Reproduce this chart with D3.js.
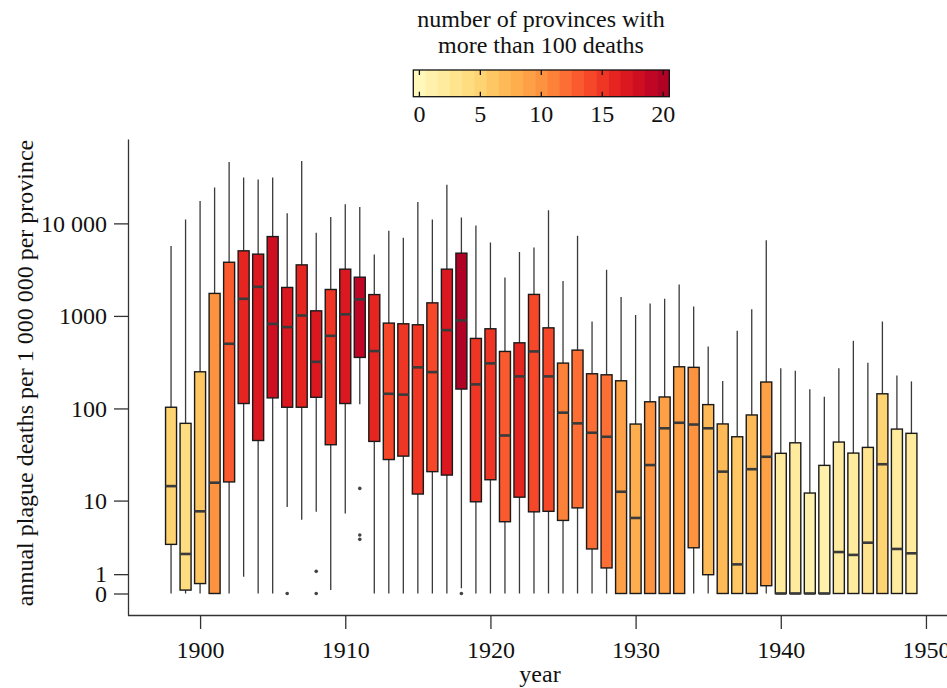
<!DOCTYPE html>
<html>
<head>
<meta charset="utf-8">
<script src="https://cdn.jsdelivr.net/npm/d3@7"></script>
<style>
  body { margin: 0; background: #fff; }
  svg text { font-family: 'Liberation Serif', Tinos, 'Times New Roman', Times, serif; }
</style>
</head>
<body>
<div id="chart"></div>
<script>
// data (deaths per 1 000 000 per province)
const years = [1898, 1899, 1900, 1901, 1902, 1903, 1904, 1905, 1906, 1907, 1908, 1909, 1910,
  1911, 1912, 1913, 1914, 1915, 1916, 1917, 1918, 1919, 1920, 1921, 1922, 1923, 1924, 1925,
  1926, 1927, 1928, 1929, 1930, 1931, 1932, 1933, 1934, 1935, 1936, 1937, 1938, 1939, 1940,
  1941, 1942, 1943, 1944, 1945, 1946, 1947, 1948, 1949]
const whiskerHigh = [5700, 11000, 17500, 24400, 46000, 31300, 29800, 31300, 12900, 47300, 7900, 11750, 16100,
  15070, 4600, 8300, 7000, 17000, 11000, 26100, 11600, 9500, 6200, 2600, 4900, 5500, 13900, 2380,
  7330, 871, 3150, 1600, 1020, 1365, 1530, 2190, 1266, 468, 198, 690, 1183, 6590, 271,
  255, 161, 134, 271, 538, 311, 871, 227, 196]
const q3 = [103, 69, 249, 1750, 3800, 5050, 4650, 7200, 2030, 3560, 1135, 1930, 3200,
  2620, 1700, 836, 822, 802, 1384, 3200, 4765, 571, 726, 413, 512, 1707, 743, 309,
  427, 237, 231, 199, 67.8, 118, 133, 282, 278, 110, 68, 49.4, 85, 193, 32.7,
  42.5, 12.1, 24.2, 43.3, 32.9, 37.9, 144, 59.8, 53.8]
const median = [14.4, 2.3, 7.6, 15.7, 500, 1530, 2060, 820, 757, 1010, 319, 609, 1040,
  1510, 417, 144, 141, 278, 247, 702, 894, 182, 307, 51, 222, 413, 222, 90,
  69, 54.6, 49.4, 12.5, 6.4, 24.4, 61, 70, 67, 61, 20.7, 1.58, 22, 30, 0,
  0, 0, 0, 2.45, 2.23, 3.26, 24.9, 2.7, 2.35]
const q1 = [3.1, 0.17, 0.5, 0, 16, 113, 45, 130, 103, 103, 132, 40.5, 113,
  356, 44, 28, 30.5, 11.8, 20.7, 19, 162, 9.7, 16.9, 5.8, 10.9, 7.5, 7.6, 6.0,
  8.3, 2.7, 1.36, 0, 0, 0, 0, 0, 2.8, 0.97, 0, 0, 0, 0.39, 0,
  0, 0, 0, 0, 0, 0, 0, 0, 0]
const whiskerLow = [0, 0, 0, 0, 0, 0.86, 0, 0, 8.5, 6.1, 7.5, 0.17, 7.2,
  111, 0, 0, 0, 0, 0, 0, 0.26, 0, 0, 0, 0, 0, 0, 0,
  0, 0, 0, 0, 0, 0, 0, 0, 0, 0, 0, 0, 0, 0, 0,
  0, 0, 0, 0, 0, 0, 0, 0, 0]
// number of provinces with more than 100 deaths
const provinces = [5, 4, 6, 10, 13, 16, 17, 18, 17, 16, 17, 15, 17,
  19, 16, 14, 15, 15, 14, 17, 20, 15, 15, 13, 16, 14, 14, 11,
  12, 12, 12, 9, 8, 10, 9, 9, 10, 7, 7, 6, 7, 9, 2,
  2, 1, 1, 2, 2, 3, 5, 2, 2]
const outlierYears = [1906, 1908, 1908, 1911, 1911, 1911, 1918]
const outlierValues = [0, 1.16, 0, 13.6, 4.05, 3.59, 0]

const yTicks = [0, 1, 10, 100, 1000, 10000]
const yTickLabels = ['0', '1', '10', '100', '1000', '10 000']
const xTicks = [1900, 1910, 1920, 1930, 1940, 1950]
const legendValues = [0, 1, 2, 3, 4, 5, 6, 7, 8, 9, 10, 11, 12, 13, 14, 15, 16, 17, 18, 19, 20]
const legendTicks = [0, 5, 10, 15, 20]

const W = 947, H = 688
const fs = 24
const serif = "'Liberation Serif', Tinos, 'Times New Roman', Times, serif"

const svg = d3.select('#chart')
    .append('svg')
    .attr('width', W)
    .attr('height', H)
    .attr('font-family', serif)

// Scales
const x = d3.scaleLinear()
    .domain([1895, 1951.45])
    .range([127.5, 947])

// values are drawn on an asinh(v / 2) axis, so 0 and 1 fit under the log decades
const tr = v => Math.asinh(v / 2)
const yLin = d3.scaleLinear()
    .domain([-0.535, 11.31])
    .range([615, 139])
const y = v => yLin(tr(v))

const color = d3.scaleSequential(d3.interpolateYlOrRd)
    .domain([-1.2, 22.35])

// Axes
const xAxis = d3.axisBottom(x)
    .tickValues(xTicks)
    .tickFormat(d => d)
    .tickSize(14)
    .tickSizeOuter(0)
    .tickPadding(12)

const yAxis = d3.axisLeft(yLin)
    .tickValues(yTicks.map(tr))
    .tickFormat((d, i) => yTickLabels[i])
    .tickSize(14)
    .tickSizeOuter(0)
    .tickPadding(7)

const xAxisCall = svg.append('g')
    .attr('transform', 'translate(0, 615)')
    .call(xAxis)

const yAxisCall = svg.append('g')
    .attr('transform', 'translate(128, 0)')
    .call(yAxis)

for (const a of [xAxisCall, yAxisCall]) {
  a.attr('font-family', serif).attr('font-size', fs)
  a.selectAll('text').attr('fill', '#111')
  a.selectAll('path, line').attr('stroke', '#333').attr('stroke-width', 1.3)
}

svg.append('text')
    .attr('x', 540)
    .attr('y', 682)
    .attr('font-size', fs)
    .attr('text-anchor', 'middle')
    .attr('fill', '#111')
    .text('year')

svg.append('text')
    .attr('transform', 'translate(33, 373) rotate(-90)')
    .attr('font-size', fs)
    .attr('text-anchor', 'middle')
    .attr('fill', '#111')
    .text('annual plague deaths per 1 000 000 per province')

// Boxes
const boxW = 11
const rows = years.map((yr, i) => ({
  year: yr, hi: whiskerHigh[i], q3: q3[i], med: median[i], q1: q1[i], lo: whiskerLow[i], n: provinces[i]
}))

const boxes = svg.append('g')
    .selectAll('g')
    .data(rows)
    .enter()
    .append('g')

boxes.append('line')
    .attr('x1', d => x(d.year))
    .attr('x2', d => x(d.year))
    .attr('y1', d => y(d.hi))
    .attr('y2', d => y(d.lo))
    .attr('stroke', '#3a3a3a')
    .attr('stroke-width', 1.3)

boxes.append('rect')
    .attr('x', d => x(d.year) - boxW / 2)
    .attr('y', d => y(d.q3))
    .attr('width', boxW)
    .attr('height', d => y(d.q1) - y(d.q3))
    .attr('fill', d => color(d.n))
    .attr('stroke', '#1a1a1a')
    .attr('stroke-width', 1.4)

boxes.append('line')
    .attr('x1', d => x(d.year) - boxW / 2)
    .attr('x2', d => x(d.year) + boxW / 2)
    .attr('y1', d => y(d.med))
    .attr('y2', d => y(d.med))
    .attr('stroke', '#3a3a3a')
    .attr('stroke-width', 2.6)

svg.append('g')
    .selectAll('circle')
    .data(outlierYears)
    .enter()
    .append('circle')
    .attr('cx', d => x(d))
    .attr('cy', (d, i) => y(outlierValues[i]))
    .attr('r', 1.8)
    .attr('fill', '#444')

// Colour legend
const lx = d3.scaleBand()
    .domain(legendValues)
    .range([413.3, 669.3])
const ly = 70, lh = 26.7

const legend = svg.append('g')

legend.selectAll('rect')
    .data(legendValues)
    .enter()
    .append('rect')
    .attr('x', d => lx(d))
    .attr('y', ly)
    .attr('width', lx.bandwidth() + 0.5)
    .attr('height', lh)
    .attr('fill', d => color(d))

legend.append('rect')
    .attr('x', 413.3)
    .attr('y', ly)
    .attr('width', 256)
    .attr('height', lh)
    .attr('fill', 'none')
    .attr('stroke', '#111')
    .attr('stroke-width', 1.3)

const lt = legend.selectAll('.lt')
    .data(legendTicks)
    .enter()
    .append('g')
    .attr('transform', d => `translate(${lx(d) + lx.bandwidth() / 2}, 0)`)

lt.append('line')
    .attr('y1', ly).attr('y2', ly + 5)
    .attr('stroke', '#111').attr('stroke-width', 1.3)
lt.append('line')
    .attr('y1', ly + lh - 5).attr('y2', ly + lh)
    .attr('stroke', '#111').attr('stroke-width', 1.3)
lt.append('text')
    .attr('y', 122)
    .attr('font-size', fs)
    .attr('text-anchor', 'middle')
    .attr('fill', '#111')
    .text(d => d)

legend.append('text')
    .attr('x', 541)
    .attr('y', 27)
    .attr('font-size', fs)
    .attr('text-anchor', 'middle')
    .attr('fill', '#111')
    .text('number of provinces with')

legend.append('text')
    .attr('x', 541)
    .attr('y', 53)
    .attr('font-size', fs)
    .attr('text-anchor', 'middle')
    .attr('fill', '#111')
    .text('more than 100 deaths')
</script>
</body>
</html>
